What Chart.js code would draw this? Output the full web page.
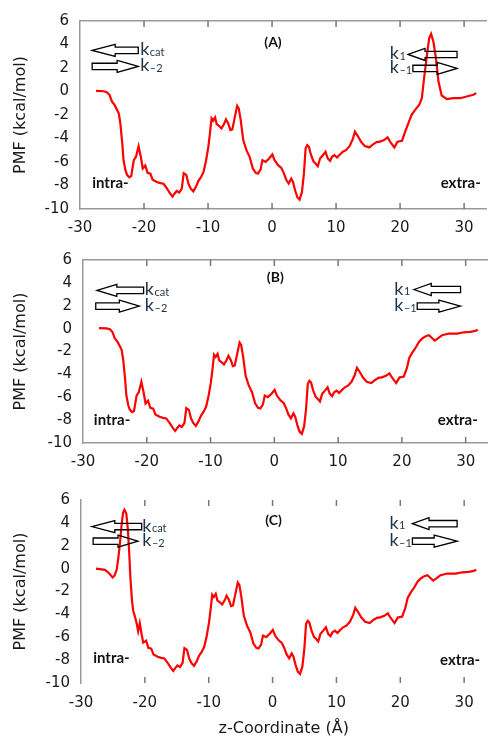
<!DOCTYPE html>
<html>
<head>
<meta charset="utf-8">
<script src="https://cdn.jsdelivr.net/npm/chart.js@4.4.1/dist/chart.umd.min.js"></script>
<style>
  html, body { margin: 0; padding: 0; background: #fff; }
  #wrap { position: relative; width: 488px; height: 739px; }
  canvas { position: absolute; left: 0; }
</style>
</head>
<body>
<div id="wrap">
  <canvas id="panelA" width="488" height="240" style="top:0"></canvas>
  <canvas id="panelB" width="488" height="240" style="top:240px"></canvas>
  <canvas id="panelC" width="488" height="259" style="top:480px"></canvas>
</div>
<script>
// tick labels
const xTicks = [-30, -20, -10, 0, 10, 20, 30];
const yTicks = [-10, -8, -6, -4, -2, 0, 2, 4, 6];

// start of the profile, panels A and B
const zLeftB = [-27.5, -26.3, -25.8, -25.4, -25.0, -24.6, -24.2, -23.95, -23.7, -23.4, -23.2, -22.9, -22.65, -22.3, -22.0, -21.6, -21.25, -20.85, -20.5, -20.2];
const pmfLeftB = [0.05, 0.02, -0.06, -0.28, -0.86, -1.14, -1.57, -1.85, -2.7, -4.4, -5.85, -6.7, -7.1, -7.3, -7.2, -5.85, -5.55, -4.65, -5.55, -6.55];

// start of the profile, panel C (barrier on the intra side)
const zLeftC = [-27.65, -26.25, -25.6, -25.05, -24.75, -24.4, -24.15, -23.9, -23.65, -23.4, -23.2, -22.9, -22.65, -22.45, -22.25, -22.0, -21.8, -21.55, -21.3, -21.05, -20.8, -20.5, -20.25];
const pmfLeftC = [0.0, -0.11, -0.4, -0.77, -0.62, -0.06, 0.94, 2.22, 3.79, 4.93, 5.15, 4.79, 3.36, 1.37, -0.92, -2.91, -3.76, -4.19, -4.76, -5.47, -4.76, -5.76, -6.47];

// middle part, same in all three panels
const zCore = [-19.8, -19.45, -19.0, -18.65, -18.0, -17.45, -16.95, -16.4, -15.9, -15.55, -15.25, -14.9, -14.5, -14.1, -13.8, -13.4, -13.06, -12.7, -12.3, -11.9,
  -11.5, -11.15, -10.7, -10.3, -9.95, -9.7, -9.45, -9.2, -8.9, -8.65, -8.25, -7.9, -7.5, -7.2, -6.85, -6.5, -6.2, -5.8, -5.45, -5.2,
  -4.9, -4.5, -4.0, -3.5, -3.0, -2.55, -2.2, -1.8, -1.5, -1.0, -0.45, 0.05, 0.4, 0.95, 1.45, 1.87, 2.2, 2.6, 3.0, 3.27,
  3.6, 3.95, 4.3, 4.67, 4.98, 5.24, 5.5, 5.75, 6.1, 6.5, 6.8, 7.15, 7.5, 7.93, 8.35, 8.7, 9.07, 9.38, 9.75, 10.15,
  10.5, 11.05, 11.55, 12.1, 12.6, 12.95, 13.4, 13.9, 14.5, 15.2, 15.85, 16.4, 16.75, 17.5, 18.05, 18.55, 19.1, 19.6, 20.3];
const pmfCore = [-6.3, -6.93, -7.0, -7.5, -7.7, -7.8, -7.85, -8.27, -8.7, -8.95, -8.7, -8.47, -8.6, -8.27, -6.95, -7.1, -7.85, -8.27, -8.5, -8.13,
  -7.6, -7.33, -6.84, -5.85, -4.7, -3.57, -2.28, -2.48, -2.2, -2.77, -2.94, -3.14, -2.77, -2.37, -2.71, -3.28, -3.22, -2.14, -1.22, -1.43,
  -2.42, -4.13, -4.99, -5.56, -6.56, -6.93, -6.99, -6.65, -5.85, -5.99, -5.7, -5.36, -5.85, -6.27, -6.5, -6.99, -7.5, -7.84, -7.41, -7.7,
  -8.41, -9.0, -9.2, -8.55, -6.99, -4.85, -4.56, -4.7, -5.42, -5.99, -6.13, -6.36, -5.7, -5.42, -5.13, -5.7, -5.9, -5.56, -5.42, -5.62,
  -5.42, -5.13, -4.99, -4.65, -4.08, -3.42, -3.79, -4.28, -4.65, -4.76, -4.47, -4.28, -4.28, -4.13, -3.91, -4.36, -4.76, -4.28, -4.19];

// end of the profile, panels B and C
const zRightB = [20.8, 21.15, 21.65, 22.2, 22.7, 23.2, 23.75, 24.25, 24.8, 25.15, 25.65, 26.3, 27.4, 28.7, 29.7, 30.75, 31.5, 31.9];
const pmfRightB = [-3.42, -2.57, -2.08, -1.63, -1.14, -0.86, -0.66, -0.57, -0.86, -1.05, -0.86, -0.57, -0.43, -0.43, -0.32, -0.28, -0.2, -0.09];

// end of the profile, panel A (barrier on the extra side)
const zRightA = [20.9, 21.3, 21.8, 22.35, 23.0, 23.4, 23.75, 24.2, 24.55, 24.85, 25.2, 25.6, 26.0, 26.5, 27.3, 28.3, 29.4, 30.4, 31.45, 31.9];
const pmfRightA = [-3.26, -2.7, -1.98, -1.56, -1.13, -0.57, 1.13, 3.12, 4.54, 4.9, 4.26, 2.83, 0.85, -0.34, -0.65, -0.57, -0.57, -0.43, -0.28, -0.14];

function points(zs, vs) {
  return zs.map((z, i) => ({ x: z, y: vs[i] }));
}
const seriesA = points(zLeftB.concat(zCore, zRightA), pmfLeftB.concat(pmfCore, pmfRightA));
const seriesB = points(zLeftB.concat(zCore, zRightB), pmfLeftB.concat(pmfCore, pmfRightB));
const seriesC = points(zLeftC.concat(zCore, zRightB), pmfLeftC.concat(pmfCore, pmfRightB));

Chart.defaults.font.family = 'DejaVu Sans';
Chart.defaults.color = '#1a1a1a';

const GREY = '#999999';
const KCOL = '#1e3348';

// hollow block arrow, tip/base/tail in px
function blockArrow(ctx, tip, base, tail, cy) {
  const hh = 6, sh = 3.2;
  ctx.beginPath();
  ctx.moveTo(tip, cy);
  ctx.lineTo(base, cy - hh);
  ctx.lineTo(base, cy - sh);
  ctx.lineTo(tail, cy - sh);
  ctx.lineTo(tail, cy + sh);
  ctx.lineTo(base, cy + sh);
  ctx.lineTo(base, cy + hh);
  ctx.closePath();
  ctx.stroke();
}

function rateLabel(ctx, x, cy, sub) {
  ctx.fillStyle = KCOL;
  ctx.textAlign = 'left';
  ctx.textBaseline = 'alphabetic';
  ctx.font = '18px Lato';
  ctx.fillText('k', x, cy + 5);
  const w = ctx.measureText('k').width;
  ctx.font = '11px Lato';
  ctx.fillText(sub, x + w + 0.5, cy + 5.5);
}

// small inward ticks at top and bottom (gnuplot style)
function drawInnerTicks(ctx, x, area) {
  ctx.strokeStyle = '#777777';
  ctx.lineWidth = 1.5;
  ctx.beginPath();
  for (let i = 1; i < xTicks.length; i++) {
    const px = x.getPixelForValue(xTicks[i]);
    ctx.moveTo(px, area.top);
    ctx.lineTo(px, area.top + 6);
    ctx.moveTo(px, area.bottom);
    ctx.lineTo(px, area.bottom - 6);
  }
  ctx.stroke();
}

const panelDecor = {
  id: 'panelDecor',
  afterDatasetsDraw(chart, args, opts) {
    const ctx = chart.ctx;
    const x = chart.scales.x, y = chart.scales.y;
    const X = v => x.getPixelForValue(v);
    const Y = v => y.getPixelForValue(v);
    ctx.save();
    drawInnerTicks(ctx, x, chart.chartArea);
    ctx.strokeStyle = '#000';
    ctx.lineWidth = 1.3;
    ctx.lineJoin = 'miter';
    opts.arrows.forEach(a => blockArrow(ctx, X(a.tip), X(a.base), X(a.tail), Y(a.v)));
    opts.rates.forEach(r => rateLabel(ctx, X(r.z), Y(r.v), r.sub));

    ctx.fillStyle = '#111';
    ctx.textBaseline = 'middle';
    ctx.font = 'bold 14px Lato';
    ctx.textAlign = 'center';
    ctx.fillText(opts.tag.text, X(opts.tag.z), Y(opts.tag.v));
    ctx.font = 'bold 15px Lato';
    ctx.textAlign = 'left';
    ctx.fillText('intra-', X(opts.intra.z), Y(opts.intra.v));
    ctx.textAlign = 'right';
    ctx.fillText('extra-', X(opts.extra.z), Y(opts.extra.v));
    ctx.restore();
  }
};

function makePanel(id, series, deco, box) {
  return new Chart(document.getElementById(id), {
    type: 'line',
    data: {
      datasets: [{
        data: series,
        borderColor: '#ff0000',
        borderWidth: 2.2,
        pointRadius: 0,
        tension: 0,
        fill: false
      }]
    },
    options: {
      responsive: false,
      animation: false,
      layout: { padding: { top: box.top, right: box.right, left: 0, bottom: 0 } },
      plugins: {
        legend: { display: false },
        tooltip: { enabled: false },
        panelDecor: deco
      },
      scales: {
        x: {
          type: 'linear',
          min: -30,
          max: 33.5,
          afterBuildTicks: s => { s.ticks = xTicks.map(v => ({ value: v })); },
          afterFit: s => { s.height = box.xh; },
          grid: { display: true, drawOnChartArea: false, drawTicks: false },
          border: { display: deco.frame, color: GREY, width: 1.5 },
          ticks: { font: { size: 15 }, padding: box.xpad, maxRotation: 0, autoSkip: false },
          title: {
            display: !!box.xtitle,
            text: box.xtitle || '',
            font: { size: 16 },
            padding: { top: 0, bottom: 1 }
          }
        },
        xTop: {
          type: 'linear',
          position: 'top',
          min: -30,
          max: 33.5,
          display: deco.frame,
          afterFit: s => { s.height = 0; },
          grid: { display: true, drawOnChartArea: false, drawTicks: false },
          border: { display: true, color: GREY, width: 1.5 },
          ticks: { display: false }
        },
        y: {
          min: -10,
          max: 6,
          afterBuildTicks: s => { s.ticks = yTicks.map(v => ({ value: v })); },
          afterFit: s => { s.width = box.left; },
          grid: { display: true, drawOnChartArea: false, drawTicks: false },
          border: { display: true, color: GREY, width: 1.5 },
          ticks: { font: { size: 15 }, padding: 11 },
          title: {
            display: true,
            text: 'PMF (kcal/mol)',
            font: { size: 16 },
            padding: { top: 11, bottom: 0 }
          }
        }
      }
    },
    plugins: [panelDecor]
  });
}

makePanel('panelA', seriesA, {
  frame: true,
  arrows: [
    { tip: -28.1, base: -24.5, tail: -20.9, v: 3.5 },
    { tip: -20.9, base: -24.2, tail: -28.1, v: 2.13 },
    { tip: 21.25, base: 23.9, tail: 28.9, v: 3.15 },
    { tip: 28.9, base: 25.8, tail: 22.0, v: 1.96 }
  ],
  rates: [
    { z: -20.6, v: 3.5, sub: 'cat' },
    { z: -20.6, v: 2.13, sub: '\u20132' },
    { z: 18.4, v: 3.15, sub: '1' },
    { z: 18.4, v: 1.96, sub: '\u20131' }
  ],
  tag: { text: '(A)', z: 0.15, v: 4.17 },
  intra: { z: -28.1, v: -7.83 },
  extra: { z: 32.6, v: -7.83 }
}, { top: 21, right: 1.5, left: 80, xh: 31, xpad: 10 });

makePanel('panelB', seriesB, {
  frame: true,
  arrows: [
    { tip: -27.8, base: -24.7, tail: -20.5, v: 3.34 },
    { tip: -21.15, base: -24.3, tail: -28.0, v: 1.97 },
    { tip: 21.9, base: 24.6, tail: 29.2, v: 3.42 },
    { tip: 29.2, base: 25.8, tail: 22.4, v: 1.97 }
  ],
  rates: [
    { z: -20.3, v: 3.34, sub: 'cat' },
    { z: -20.3, v: 1.97, sub: '\u20132' },
    { z: 18.8, v: 3.42, sub: '1' },
    { z: 18.8, v: 1.97, sub: '\u20131' }
  ],
  tag: { text: '(B)', z: 0.15, v: 4.45 },
  intra: { z: -28.3, v: -8.04 },
  extra: { z: 31.9, v: -8.04 }
}, { top: 16, right: 0, left: 83, xh: 37, xpad: 10 });

makePanel('panelC', seriesC, {
  frame: false,
  arrows: [
    { tip: -28.3, base: -24.7, tail: -20.5, v: 3.68 },
    { tip: -21.1, base: -24.2, tail: -28.1, v: 2.4 },
    { tip: 21.9, base: 24.5, tail: 28.9, v: 3.93 },
    { tip: 28.9, base: 25.3, tail: 21.9, v: 2.4 }
  ],
  rates: [
    { z: -20.4, v: 3.68, sub: 'cat' },
    { z: -20.4, v: 2.4, sub: '\u20132' },
    { z: 18.3, v: 3.93, sub: '1' },
    { z: 18.3, v: 2.4, sub: '\u20131' }
  ],
  tag: { text: '(C)', z: 0.15, v: 4.19 },
  intra: { z: -28.1, v: -7.87 },
  extra: { z: 32.5, v: -8.04 }
}, { top: 16, right: 1.5, left: 81, xh: 56, xpad: 11, xtitle: 'z-Coordinate (\u00c5)' });
</script>
</body>
</html>
